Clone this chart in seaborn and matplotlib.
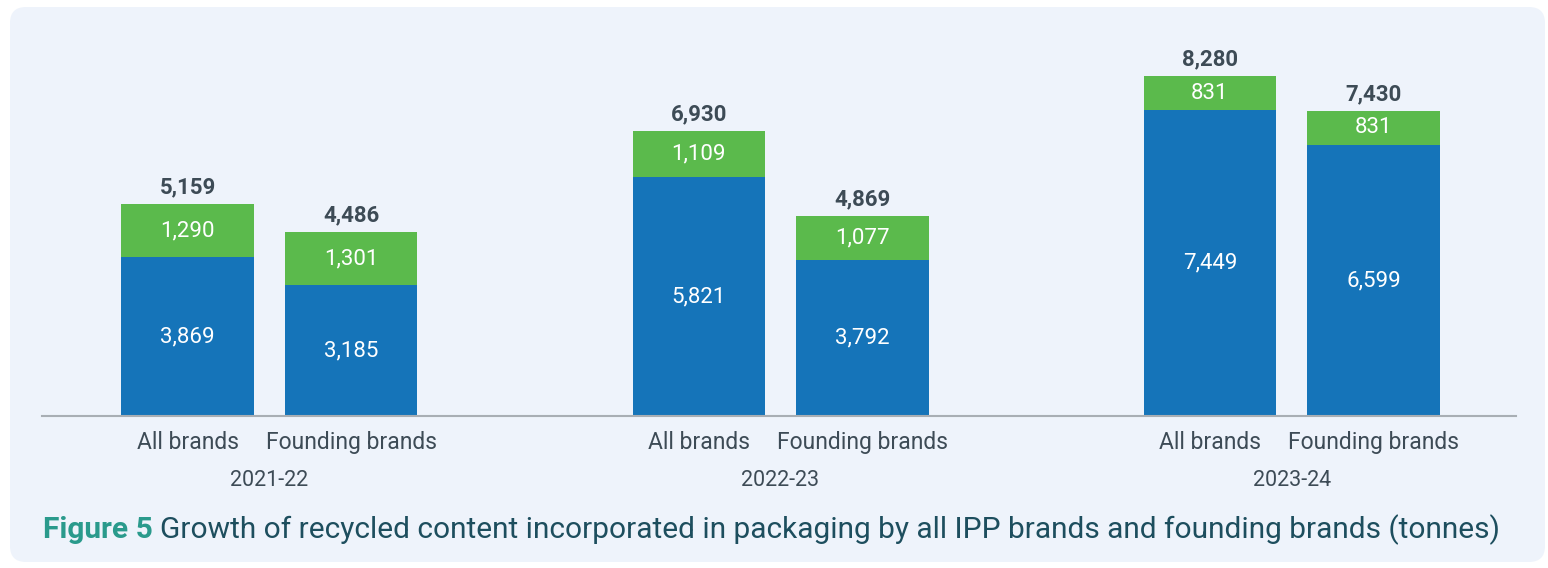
import matplotlib
matplotlib.use("Agg")
import matplotlib.pyplot as plt
import matplotlib.transforms as mtransforms
from matplotlib.patches import FancyBboxPatch
import seaborn as sns
import pandas as pd

# ---- data ----
years = ["2021-22", "2022-23", "2023-24"]
brands = ["All brands", "Founding brands"]
blue_values = [3869, 3185, 5821, 3792, 7449, 6599]
green_values = [1290, 1301, 1109, 1077, 831, 831]
total_values = [5159, 4486, 6930, 4869, 8280, 7430]
caption_bold = "Figure 5"
caption_text = "Growth of recycled content incorporated in packaging by all IPP brands and founding brands (tonnes)"

rows = []
i = 0
for y in years:
    for b in brands:
        rows.append(dict(year=y, brand=b, blue=blue_values[i], green=green_values[i], total=total_values[i]))
        i += 1
df = pd.DataFrame(rows)

BLUE = "#1574b9"
GREEN = "#5bba4c"
PANEL = "#eef3fb"
DARK = "#3d4b56"
TEAL = "#2a9a8c"
CAP = "#1d4e5e"

sns.set_theme(style="white")
plt.rcParams["font.family"] = ["Roboto", "DejaVu Sans"]

W, H = 1548, 568
fig = plt.figure(figsize=(W / 100, H / 100), dpi=100)
fig.patch.set_facecolor("white")

panel = FancyBboxPatch((10, 6), 1535, 555, boxstyle="round,pad=0,rounding_size=16",
                       transform=mtransforms.IdentityTransform(), facecolor=PANEL,
                       edgecolor="none", zorder=-5)
fig.patches.append(panel)

ax = fig.add_axes([42 / W, 152 / H, (1516 - 42) / W, 370 / H])
ax.set_facecolor("none")

common = dict(data=df, x="year", hue="brand", order=years, hue_order=brands, dodge=True,
              width=0.64, gap=0.19, legend=False, ax=ax, saturation=1, linewidth=0,
              errorbar=None)
sns.barplot(y="total", palette=[GREEN, GREEN], **common)
sns.barplot(y="blue", palette=[BLUE, BLUE], **common)

ax.set_ylim(0, 9011)
ax.set_xlim(-0.445, 2.439)

green_c = ax.containers[0:2]
blue_c = ax.containers[2:4]

centers = []
for bi, b in enumerate(brands):
    for yi, y in enumerate(years):
        idx = yi * 2 + bi
        gp = green_c[bi][yi]
        cx = gp.get_x() + gp.get_width() / 2
        centers.append((cx, b))
        tot = total_values[idx]
        bl = blue_values[idx]
        ax.text(cx, bl / 2, f"{blue_values[idx]:,}", ha="center", va="center",
                color="white", fontsize=16)
        ax.text(cx, (bl + tot) / 2, f"{green_values[idx]:,}", ha="center", va="center",
                color="white", fontsize=16)
        ax.annotate(f"{tot:,}", xy=(cx, tot), xytext=(0, 12), textcoords="offset points",
                    ha="center", va="center", color=DARK, fontsize=16, fontweight="bold")

centers.sort()
ax.set_xticks([c for c, _ in centers])
ax.set_xticklabels([b for _, b in centers], fontsize=16.5, color=DARK)
ax.tick_params(axis="x", length=0, pad=10.5)
ax.set_yticks([])
ax.set_xlabel("")
ax.set_ylabel("")

for s in ["top", "left", "right"]:
    ax.spines[s].set_visible(False)
ax.spines["bottom"].set_color("#a8aeb4")
ax.spines["bottom"].set_linewidth(1.5)

trans = mtransforms.blended_transform_factory(ax.transData, ax.transAxes)
for yi, y in enumerate(years):
    ax.text(yi, -(480 - 416) / 370, y, transform=trans, ha="center", va="center",
            fontsize=15.5, color=DARK)

t1 = fig.text(43 / W, (568 - 530) / H, caption_bold, ha="left", va="center",
              fontsize=21.5, fontweight="bold", color=TEAL)
ax.annotate(caption_text, xy=(1, 0.5), xycoords=t1, xytext=(5, 0),
            textcoords="offset points", ha="left", va="center", fontsize=21.5, color=CAP,
            annotation_clip=False)

fig.savefig("out.png", dpi=100, facecolor="white")
